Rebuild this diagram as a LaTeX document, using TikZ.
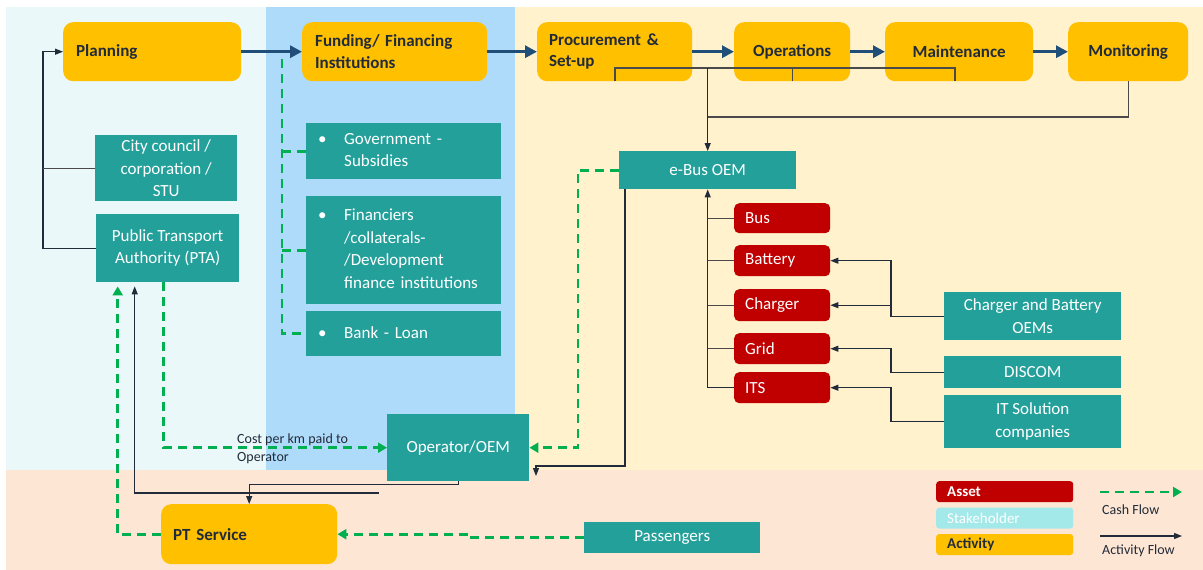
\documentclass[tikz,border=0pt]{standalone}
\usepackage{fontspec}
\setmainfont{Carlito}
\usepackage{xcolor}
\usepackage{tikz}
\usetikzlibrary{arrows.meta, positioning}

\definecolor{actyellow}{HTML}{FFC000}
\definecolor{stkteal}{HTML}{24A09B}
\definecolor{assetred}{HTML}{C00000}
\definecolor{cashgreen}{HTML}{00B050}
\definecolor{flownavy}{HTML}{1F4E79}
\definecolor{inkdark}{HTML}{222B3A}
\definecolor{linegray}{HTML}{4A4A4A}
\definecolor{bgcyan}{HTML}{EAF8F9}
\definecolor{bgblue}{HTML}{AFDBFB}
\definecolor{bgyellow}{HTML}{FFF2CC}
\definecolor{bgpeach}{HTML}{FDE6D4}
\definecolor{legcyan}{HTML}{A4E9E9}

% bullet with hanging lines for the funding boxes
\newcommand{\fundbullet}[1]{%
  \begin{tabular}{@{}p{26pt}@{}l@{}}\textbullet & \begin{tabular}[t]{@{}l@{}}#1\end{tabular}\end{tabular}}

\begin{document}
\begin{tikzpicture}[
  x=1pt, y=-1pt,
  every node/.style={inner sep=0pt},
  activity/.style={rectangle, rounded corners=10pt, fill=actyellow, text=inkdark,
                   anchor=north west, minimum height=59pt,
                   font=\fontsize{17}{21.5}\selectfont\bfseries},
  stakeholder/.style={rectangle, fill=stkteal, text=white, anchor=north west,
                      align=center, font=\fontsize{17}{22.5}\selectfont},
  fundbox/.style={stakeholder, align=left, inner xsep=12pt, text width=171pt},
  asset/.style={rectangle, rounded corners=5pt, fill=assetred, text=white,
                anchor=north west, align=left, inner xsep=11pt, text width=74pt,
                font=\fontsize{17}{21}\selectfont},
  legendbox/.style={rectangle, rounded corners=3pt, anchor=north west, align=left,
                    inner xsep=11pt, text width=115pt, minimum height=21pt,
                    font=\fontsize{15}{18}\selectfont},
  note/.style={anchor=west, align=left, text=inkdark, font=\fontsize{14}{18}\selectfont},
  flow/.style={-{Triangle[length=12pt,width=12pt]}, line width=3.2pt, flownavy},
  actline/.style={line width=1.1pt, linegray},
  actarrow/.style={-{Triangle[length=8pt,width=6pt]}, line width=1.1pt, inkdark},
  cashline/.style={line width=2.6pt, cashgreen, dash pattern=on 9pt off 6pt},
  casharrow/.style={cashline, -{Triangle[length=9pt,width=10pt]}},
]
\useasboundingbox (0,0) rectangle (1203,570);

% panels
\fill[white] (0,0) rectangle (1203,570);
\fill[bgcyan] (6,7) rectangle (266,470);
\fill[bgblue] (266,7) rectangle (515,470);
\fill[bgyellow] (515,7) rectangle (1203,470);
\fill[bgpeach] (6,470) rectangle (1203,570);

% activities
\node[activity, align=left, inner xsep=13pt, text width=152pt] (planning) at (63,22) {Planning};
\node[activity, align=left, inner xsep=13pt, text width=159pt] (funding) at (302,22) {Funding/ Financing\\Institutions};
\node[activity, align=left, inner xsep=12pt, text width=131pt] (procure) at (537,22) {Procurement \&\\Set-up};
\node[activity, align=center, minimum width=116pt] (operations) at (734,22) {Operations};
\node[activity, align=center, minimum width=148pt] (maintenance) at (885,22) {Maintenance};
\node[activity, align=center, minimum width=120pt] (monitoring) at (1068,22) {Monitoring};
\node[activity, align=left, inner xsep=12pt, text width=152pt, minimum height=60pt] (ptservice) at (161,504) {PT Service};

% stakeholders
\node[stakeholder, minimum width=142pt, minimum height=66pt] (council) at (95,135) {City council /\\corporation /\\STU};
\node[stakeholder, minimum width=143pt, minimum height=68pt] (pta) at (96,214) {Public Transport\\Authority (PTA)};
\node[fundbox, minimum height=56pt] (govt) at (306,123) {\fundbullet{Government -\\Subsidies}};
\node[fundbox, minimum height=108pt] (financiers) at (306,196) {\fundbullet{Financiers\\/collaterals-\\/Development\\finance institutions}};
\node[fundbox, minimum height=45pt] (bank) at (306,311) {\fundbullet{Bank - Loan}};
\node[stakeholder, minimum width=177pt, minimum height=38pt] (ebus) at (619,151) {e-Bus OEM};
\node[stakeholder, minimum width=142pt, minimum height=67pt] (operator) at (387,414) {Operator/OEM};
\node[stakeholder, minimum width=176pt, minimum height=31pt] (passengers) at (584,522) {Passengers};
\node[stakeholder, minimum width=177pt, minimum height=48pt] (cbo) at (944,292) {Charger and Battery\\OEMs};
\node[stakeholder, minimum width=177pt, minimum height=32pt] (discom) at (944,356) {DISCOM};
\node[stakeholder, minimum width=177pt, minimum height=53pt] (itsol) at (944,395) {IT Solution\\companies};

% assets
\node[asset, minimum height=30pt] (bus) at (734,203) {Bus};
\node[asset, minimum height=31pt] (battery) at (734,245) {Battery};
\node[asset, minimum height=32pt] (charger) at (734,289) {Charger};
\node[asset, minimum height=31pt] (grid) at (734,333) {Grid};
\node[asset, minimum height=31pt] (its) at (734,372) {ITS};

\node[note] (costlabel) at (237,449) {Cost per km paid to\\Operator};

% legend
\node[legendbox, fill=assetred, text=white, font=\fontsize{15}{18}\selectfont\bfseries] (legasset) at (936,481) {Asset};
\node[legendbox, fill=legcyan, text=white, below=5pt of legasset] (legstake) {Stakeholder};
\node[legendbox, fill=actyellow, text=inkdark, font=\fontsize{15}{18}\selectfont\bfseries, below=5pt of legstake] (legact) {Activity};
\coordinate (cashfrom) at (1100,492);
\coordinate (cashto) at (1182,492);
\coordinate (actfrom) at (1100,536);
\coordinate (actto) at (1182,536);
\draw[casharrow] (cashfrom) -- (cashto);
\draw[actarrow] (actfrom) -- (actto);
\node[note] (cashtext) at (1102,510) {Cash Flow};
\node[note] (acttext) at (1102,551) {Activity Flow};

% bend points
\coordinate (bkl) at (615,68);
\coordinate (bkr) at (955,68);
\coordinate (monbend) at (708,117);
\coordinate (fundtop) at (282,59);
\coordinate (opbend) at (536,466);
\coordinate (optip) at (536,476);
\coordinate (ptaloop) at (379,493);

% main activity chain
\foreach \a/\b in {planning/funding, funding/procure, procure/operations,
                   operations/maintenance, maintenance/monitoring}
  \draw[flow] (\a.east) -- (\b.west);

% planning bodies
\draw[actarrow] (pta.west) -- ++(-53,0) |- (planning.west);
\draw[actline] (council.west) -- ++(-52,0);

% bracket under the activities, feeding the OEM
\draw[actline] (bkl |- procure.south) -- (bkl) -- (bkr) -- (bkr |- maintenance.south);
\draw[actline] (operations.south) -- (operations.south |- bkl);
\draw[actarrow] (ebus.north |- bkl) -- (ebus.north);
\draw[actline] (monitoring.south) |- (monbend);

% assets into the OEM
\draw[actarrow] (its.west) -| (ebus.south);
\foreach \a in {bus, battery, charger, grid}
  \draw[actline] (\a.west) -- (\a.west -| ebus.south);

% suppliers
\draw[actarrow] (cbo.west) -- ++(-53,0) |- (battery.east);
\draw[actarrow] (cbo.west) -- ++(-53,0) |- (charger.east);
\draw[actarrow] (discom.west) -- ++(-53,0) |- (grid.east);
\draw[actarrow] (itsol.west) -- ++(-53,0) |- (its.east);

% operator and service
\draw[actarrow] ([xshift=6pt]ebus.south west) |- (opbend) -- (optip);
\draw[actarrow] (operator.south) -- ++(0,3) -| (ptservice.north);
\draw[actarrow, shorten >=4pt] (ptaloop) -| ([xshift=-33pt]pta.south);

% cash flows
\draw[cashline] (fundtop) |- (bank.west);
\draw[cashline] (govt.west) -- (govt.west -| fundtop);
\draw[cashline] (financiers.west) -- (financiers.west -| fundtop);
\draw[casharrow] ([xshift=-4pt]pta.south) |- (operator.west);
\draw[casharrow] (ebus.west) -- ++(-41,0) |- (operator.east);
\draw[casharrow, shorten >=4pt] (ptservice.west) -| ([xshift=-50pt]pta.south);
\draw[casharrow] (passengers.west) -- ++(-115,0) |- (ptservice.east);

\end{tikzpicture}
\end{document}
